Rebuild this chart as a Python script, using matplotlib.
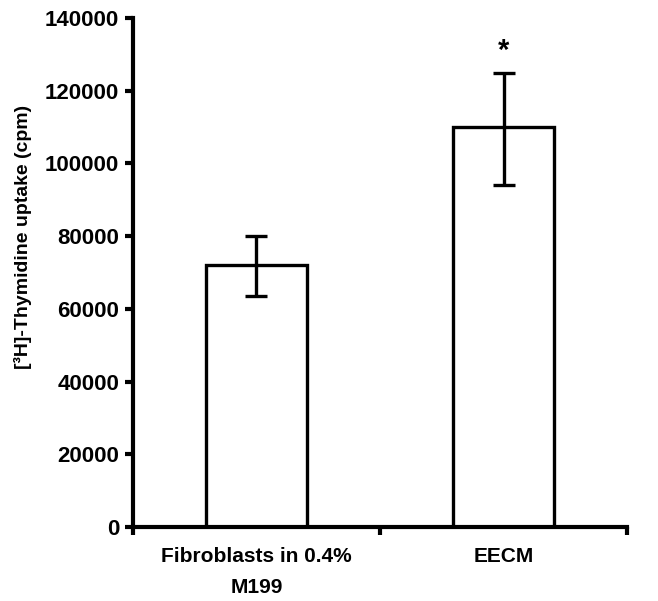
import matplotlib.pyplot as plt
import numpy as np

plt.rcParams['font.family'] = ['Liberation Sans', 'DejaVu Sans']
plt.rcParams['font.weight'] = 'bold'

categories = ['Fibroblasts in 0.4%\nM199', 'EECM']
uptake = [72000, 110000]
err_low = [8500, 16000]
err_high = [8000, 15000]
significant = [False, True]
yticks = [0, 20000, 40000, 60000, 80000, 100000, 120000, 140000]

fig = plt.figure(figsize=(6.58, 6.01), dpi=100)
ax = fig.add_axes([0.202, 0.123, 0.751, 0.847])

x = np.arange(len(categories))
ax.bar(x, uptake, width=0.41, color='white', edgecolor='black', linewidth=2.4, zorder=2)
ax.errorbar(x, uptake, yerr=[err_low, err_high], fmt='none', ecolor='black',
            elinewidth=2.4, capsize=8, capthick=2.4, zorder=3)

for xi, val, hi, sig in zip(x, uptake, err_high, significant):
    if sig:
        ax.text(xi, val + hi + 6000, '*', ha='center', va='center', fontsize=21, fontweight='bold')

ax.set_xlim(-0.5, 1.5)
ax.set_ylim(0, 140000)
ax.set_yticks(yticks)
ax.set_yticklabels([str(t) for t in yticks], fontsize=16, fontweight='bold')
ax.set_xticks(x)
ax.set_xticklabels(categories, fontsize=15, fontweight='bold', linespacing=1.8)
ax.set_xticks([-0.5, 0.5, 1.5], minor=True)
ax.tick_params(axis='x', which='major', length=0, pad=14)
ax.tick_params(axis='x', which='minor', length=6, width=3, direction='out')
ax.tick_params(axis='y', length=6, width=3, direction='out', pad=4)

ax.set_ylabel('[³H]-Thymidine uptake (cpm)', fontsize=14, fontweight='bold')
ax.yaxis.set_label_coords(-0.205, 0.57)

for side in ['top', 'right']:
    ax.spines[side].set_visible(False)
for side in ['left', 'bottom']:
    ax.spines[side].set_linewidth(3)

fig.savefig('out.png', dpi=100)
